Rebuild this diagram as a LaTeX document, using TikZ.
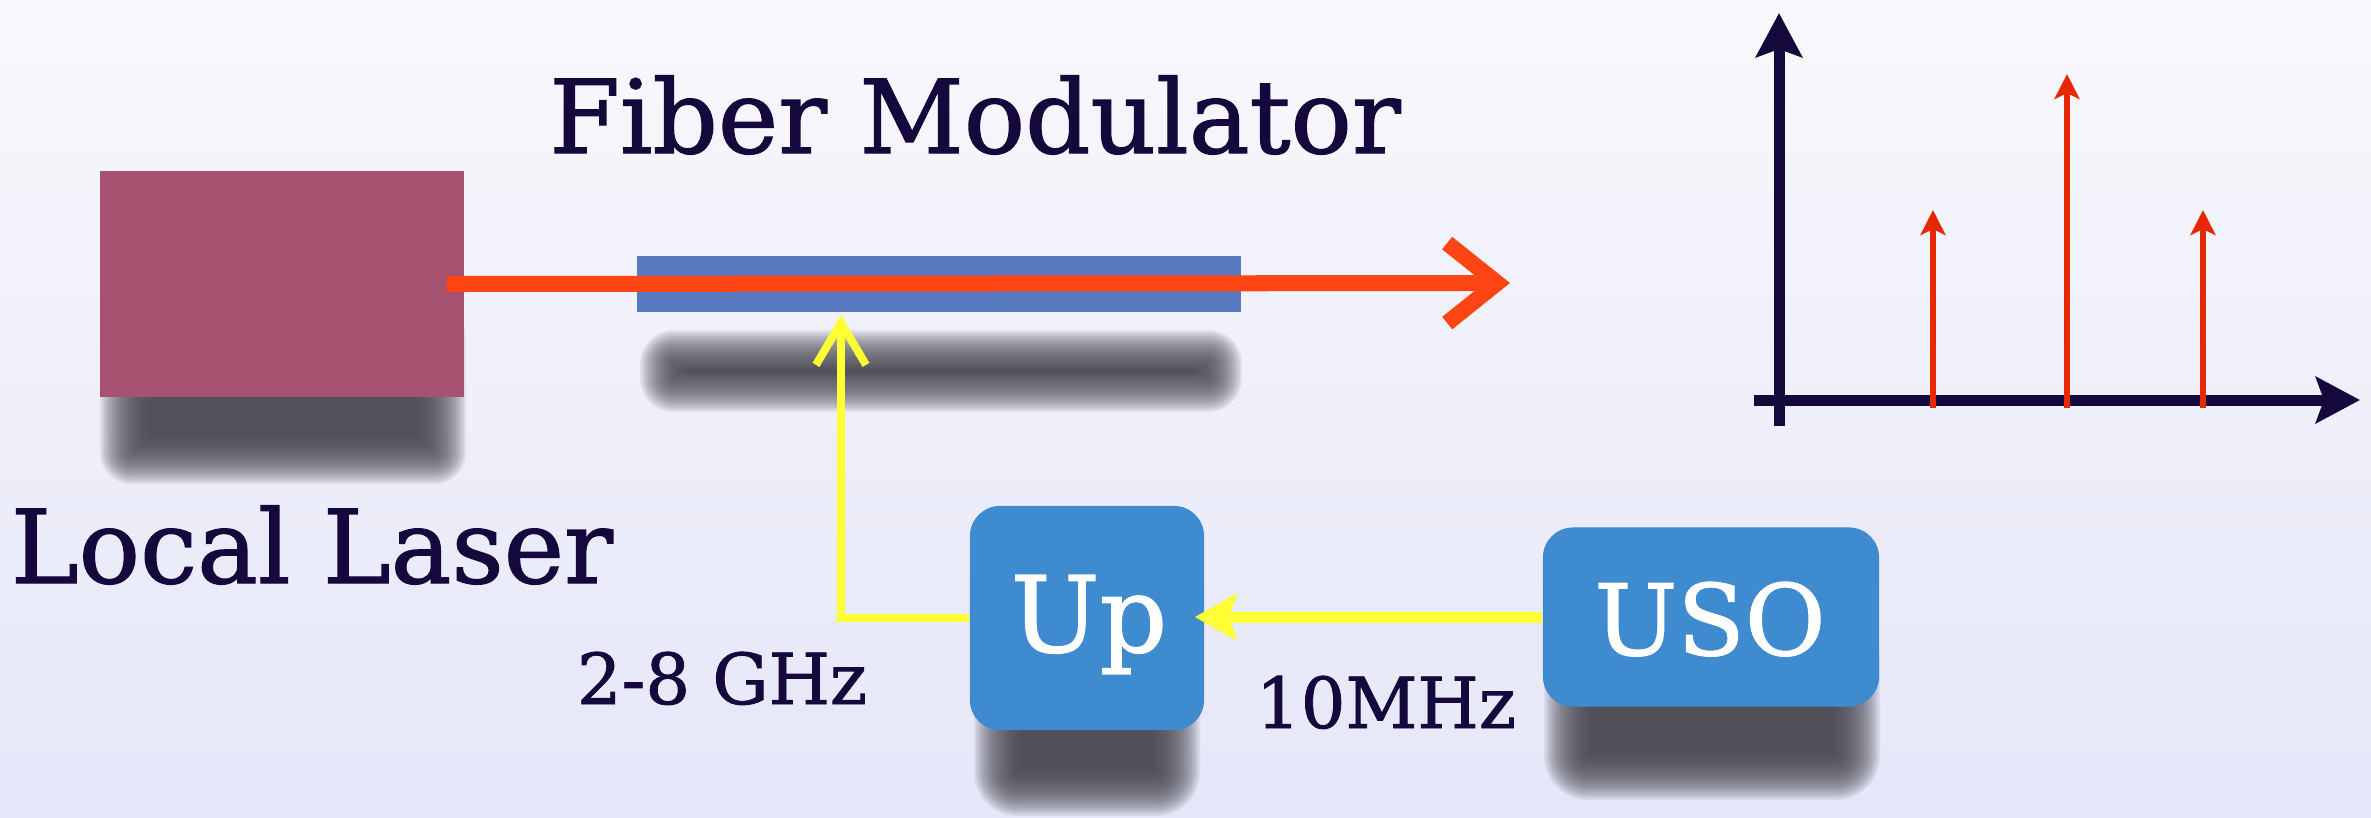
\documentclass[tikz,border=0pt]{standalone}
\usepackage{fontspec}
\newfontfamily\tagfont[FakeBold=1.2]{DejaVu Serif}
\usetikzlibrary{arrows.meta,positioning}

\definecolor{bgtop}{RGB}{248,248,252}
\definecolor{bgbot}{RGB}{229,230,248}
\definecolor{laserred}{RGB}{168,82,114}
\definecolor{fiberblue}{RGB}{88,120,192}
\definecolor{boxblue}{RGB}{63,139,207}
\definecolor{beamred}{RGB}{255,69,20}
\definecolor{linered}{RGB}{230,40,0}
\definecolor{feedyellow}{RGB}{255,255,51}
\definecolor{ink}{RGB}{20,8,60}
\definecolor{shadowgrey}{RGB}{72,72,80}

% soft shadow under a block: x1, y1, x2, y2, corner radius
\newcommand{\softshadow}[5]{%
  \foreach \k in {-12,...,12} {
    \pgfmathsetmacro\rr{max(#5+2*\k,0.5)*0.2845}
    \fill[shadowgrey, opacity=0.095, rounded corners=\rr pt]
      ({#1-2*\k},{#2-2*\k}) rectangle ({#3+2*\k},{#4+2*\k});
  }
}

\begin{document}
\begin{tikzpicture}[x=0.01cm, y=-0.01cm,
	tag/.style={text=ink, inner sep=0pt, anchor=base},
	beam/.style={draw=beamred, line width=0.16cm, -{Straight Barb[length=0.5cm, width=0.8cm]}},
	feed/.style={draw=feedyellow, line width=0.08cm, -{Straight Barb[length=0.42cm, width=0.5cm]}},
	clock/.style={draw=feedyellow, line width=0.11cm, -{Stealth[length=0.42cm, width=0.46cm, inset=0.08cm]}},
	axis/.style={draw=ink, line width=0.11cm, -{Stealth[length=0.44cm, width=0.46cm, inset=0.08cm]}},
	comb/.style={draw=linered, line width=0.055cm, -{Stealth[length=0.25cm, width=0.25cm, inset=0.06cm]}}]

	\useasboundingbox (0,0) rectangle (2371,817);
	\shade[top color=bgtop, bottom color=bgbot] (0,0) rectangle (2371,817);

	% shadows first
	\softshadow{124}{330}{442}{460}{8}
	\softshadow{664}{354}{1218}{388}{10}
	\softshadow{998}{650}{1176}{792}{20}
	\softshadow{1568}{640}{1856}{776}{20}

	% blocks
	\path (282,284) node (laser) [fill=laserred, minimum width=3.64cm, minimum height=2.25cm, inner sep=0pt] {}
		  (939,284) node (modulator) [fill=fiberblue, minimum width=6.04cm, minimum height=0.55cm, inner sep=0pt] {}
		  (1087,618) node (up) [fill=boxblue, rounded corners=0.3cm, minimum width=2.34cm, minimum height=2.24cm, inner sep=0pt] {}
		  (1711,617) node (uso) [fill=boxblue, rounded corners=0.3cm, minimum width=3.36cm, minimum height=1.79cm, inner sep=0pt] {};

	% labels
	\path (975,153) node (fibertag) [tag, font=\tagfont\fontsize{29}{29}\selectfont] {Fiber Modulator}
		  (312,583) node (lasertag) [tag, font=\tagfont\fontsize{29}{29}\selectfont] {Local Laser}
		  (722,704) node (ghztag) [tag, font=\tagfont\fontsize{20}{20}\selectfont] {2-8 GHz}
		  (1386,728) node (mhztag) [tag, font=\tagfont\fontsize{20}{20}\selectfont] {10MHz}
		  (1089,652) node (uptag) [tag, text=white, font=\tagfont\fontsize{30}{30}\selectfont] {Up}
		  (1710,655) node (usotag) [tag, text=white, font=\tagfont\fontsize{28}{28}\selectfont] {USO};

	% laser light through the fiber
	\coordinate (beamtip) at (1510,283);
	\draw[beam] ([xshift=-0.18cm]laser.east) -- (beamtip);

	% clock chain
	\coordinate (feedin) at (841,315);
	\draw[clock] (uso.west) -- ([xshift=-0.1cm]uso.west -| up.east);
	\draw[feed] (up.west) -| (feedin);

	% spectrum
	\coordinate (yfoot) at (1779,426);
	\coordinate (ytop) at (1779,13);
	\coordinate (xfoot) at (1754,400);
	\coordinate (xtip) at (2360,400);
	\draw[axis] (yfoot) -- (ytop);
	\draw[axis] (xfoot) -- (xtip);
	\foreach \x/\h/\n in {1933/210/1, 2067/74/2, 2203/210/3} {
		\coordinate (base\n) at (\x,408);
		\coordinate (peak\n) at (\x,\h);
		\draw[comb] (base\n) -- (peak\n);
	}
\end{tikzpicture}
\end{document}
